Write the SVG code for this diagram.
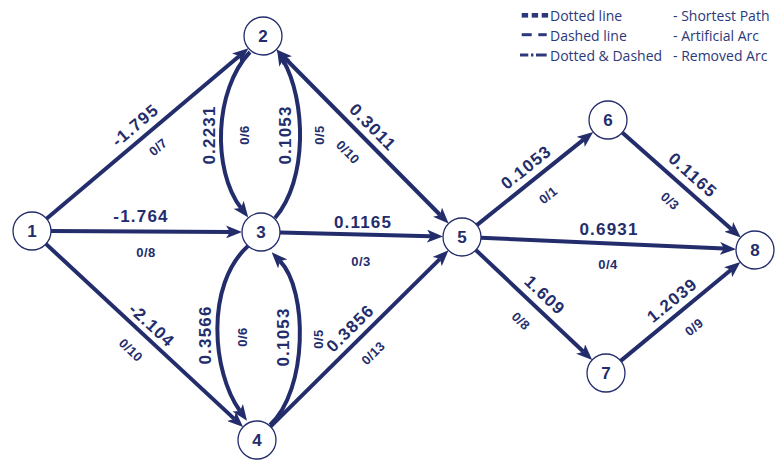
<svg xmlns="http://www.w3.org/2000/svg" width="779" height="462" viewBox="0 0 779 462">
<defs>
<style>
.e{fill:none;stroke:#242d6c;stroke-width:4}
.ar{marker-end:url(#ah)}
.bi{marker-start:url(#ah);marker-end:url(#ah)}
.n circle{fill:#fff;stroke:#242d6c;stroke-width:1.3}
.n text{font-family:"Liberation Sans",Arial,sans-serif;font-weight:bold;font-size:17px;fill:#242d6c;text-anchor:middle}
.w{font-family:"Liberation Sans",Arial,sans-serif;font-weight:bold;font-size:17px;letter-spacing:1.2px;fill:#242d6c;text-anchor:middle}
.f{font-family:"Liberation Sans",Arial,sans-serif;font-weight:bold;font-size:13px;letter-spacing:0.4px;fill:#242d6c;text-anchor:middle}
.lg{font-family:"Open Sans","Liberation Sans",sans-serif;font-size:14px;fill:#2c3879}
</style>
<marker id="ah" viewBox="0 0 16 13" refX="4" refY="6.5" markerWidth="16" markerHeight="13" markerUnits="userSpaceOnUse" orient="auto-start-reverse">
<path d="M0,0 L16,6.5 L0,13 L4,6.5 Z" fill="#242d6c"/>
</marker>
</defs>
<rect width="779" height="462" fill="#fff"/>

<g id="connectors">
<path class="e ar" d="M46.5,218.7 L239.3,56"/>
<path class="e ar" d="M51,231.1 L230,231.9"/>
<path class="e ar" d="M45.9,243.9 L234.3,418.9"/>
<path class="e ar" d="M250,52 C214,90 212,170 241,208"/>
<path class="e ar" d="M275,218 C308,180 306,100 283,60"/>
<path class="e ar" d="M248,246 C205,285 212,372 240,411"/>
<path class="e ar" d="M270,425 C308,390 308,290 280,261"/>
<path class="e bi" d="M284.8,58 L440.2,215"/>
<path class="e ar" d="M280,232.5 L431,236.2"/>
<path class="e ar" d="M270.5,426.6 L440,258.8"/>
<path class="e ar" d="M476.8,225.1 L583.8,139.4"/>
<path class="e ar" d="M481,237.8 L724,248.6"/>
<path class="e ar" d="M475.8,250 L583.5,351.7"/>
<path class="e ar" d="M622.2,132.6 L731.8,229.5"/>
<path class="e ar" d="M620.7,360.9 L731.1,269.7"/>
</g>

<g id="edge-labels">
<text class="w" transform="translate(135,125) rotate(-40.4)" dy="0.36em">-1.795</text>
<text class="f" transform="translate(158,147) rotate(-40.4)" dy="0.36em">0/7</text>
<text class="w" transform="translate(141,216)" dy="0.36em">-1.764</text>
<text class="f" transform="translate(146,252)" dy="0.36em">0/8</text>
<text class="w" transform="translate(152,325) rotate(42.9)" dy="0.36em">-2.104</text>
<text class="f" transform="translate(131,350) rotate(42.9)" dy="0.36em">0/10</text>
<text class="w" transform="translate(209,135) rotate(-90)" dy="0.36em">0.2231</text>
<text class="f" transform="translate(244,135) rotate(-90)" dy="0.36em">0/6</text>
<text class="w" transform="translate(285,135) rotate(-90)" dy="0.36em">0.1053</text>
<text class="f" transform="translate(319,135) rotate(-90)" dy="0.36em">0/5</text>
<text class="w" transform="translate(373,127) rotate(45.3)" dy="0.36em">0.3011</text>
<text class="f" transform="translate(348,152) rotate(45.3)" dy="0.36em">0/10</text>
<text class="w" transform="translate(363,222)" dy="0.36em">0.1165</text>
<text class="f" transform="translate(361,261)" dy="0.36em">0/3</text>
<text class="w" transform="translate(205,335) rotate(-90)" dy="0.36em">0.3566</text>
<text class="f" transform="translate(242,337) rotate(-90)" dy="0.36em">0/6</text>
<text class="w" transform="translate(283,337) rotate(-90)" dy="0.36em">0.1053</text>
<text class="f" transform="translate(318,339) rotate(-90)" dy="0.36em">0/5</text>
<text class="w" transform="translate(350,328) rotate(-44.7)" dy="0.36em">0.3856</text>
<text class="f" transform="translate(373,353) rotate(-44.7)" dy="0.36em">0/13</text>
<text class="w" transform="translate(526,167) rotate(-38.7)" dy="0.36em">0.1053</text>
<text class="f" transform="translate(548,195) rotate(-38.7)" dy="0.36em">0/1</text>
<text class="w" transform="translate(693,175) rotate(41.5)" dy="0.36em">0.1165</text>
<text class="f" transform="translate(670,201) rotate(41.5)" dy="0.36em">0/3</text>
<text class="w" transform="translate(609,229)" dy="0.36em">0.6931</text>
<text class="f" transform="translate(608,264)" dy="0.36em">0/4</text>
<text class="w" transform="translate(545,295) rotate(43.4)" dy="0.36em">1.609</text>
<text class="f" transform="translate(521,321) rotate(43.4)" dy="0.36em">0/8</text>
<text class="w" transform="translate(672,300) rotate(-39.5)" dy="0.36em">1.2039</text>
<text class="f" transform="translate(694,327) rotate(-39.5)" dy="0.36em">0/9</text>
</g>

<g id="node1" class="n"><circle cx="32" cy="231" r="19"/><text x="32" y="237">1</text></g>
<g id="node2" class="n"><circle cx="263" cy="36" r="19"/><text x="263" y="42">2</text></g>
<g id="node3" class="n"><circle cx="261" cy="232" r="19"/><text x="261" y="238">3</text></g>
<g id="node4" class="n"><circle cx="257" cy="440" r="19"/><text x="257" y="446">4</text></g>
<g id="node5" class="n"><circle cx="462" cy="237" r="19"/><text x="462" y="243">5</text></g>
<g id="node6" class="n"><circle cx="608" cy="120" r="19"/><text x="608" y="126">6</text></g>
<g id="node7" class="n"><circle cx="606" cy="373" r="19"/><text x="606" y="379">7</text></g>
<g id="node8" class="n"><circle cx="755" cy="250" r="19"/><text x="755" y="256">8</text></g>

<g id="legend">
<g fill="#2c3879">
<rect x="521.7" y="13" width="6.4" height="4.6"/>
<rect x="531.7" y="13" width="6.4" height="4.6"/>
<rect x="541.7" y="13" width="6.4" height="4.6"/>
</g>
<g stroke="#2c3879" stroke-width="3">
<line x1="521.7" y1="34.7" x2="531.7" y2="34.7"/>
<line x1="538.3" y1="34.7" x2="546.7" y2="34.7"/>
<line x1="520" y1="55" x2="528.3" y2="55"/>
<line x1="531" y1="55" x2="533.4" y2="55"/>
<line x1="536" y1="55" x2="546.7" y2="55"/>
</g>
<text class="lg" x="550" y="20.5">Dotted line</text>
<text class="lg" x="550" y="40.5">Dashed line</text>
<text class="lg" x="550" y="60.5">Dotted &amp; Dashed</text>
<text class="lg" x="673" y="20.5">- Shortest Path</text>
<text class="lg" x="673" y="40.5">- Artificial Arc</text>
<text class="lg" x="673" y="60.5">- Removed Arc</text>
</g>
</svg>
